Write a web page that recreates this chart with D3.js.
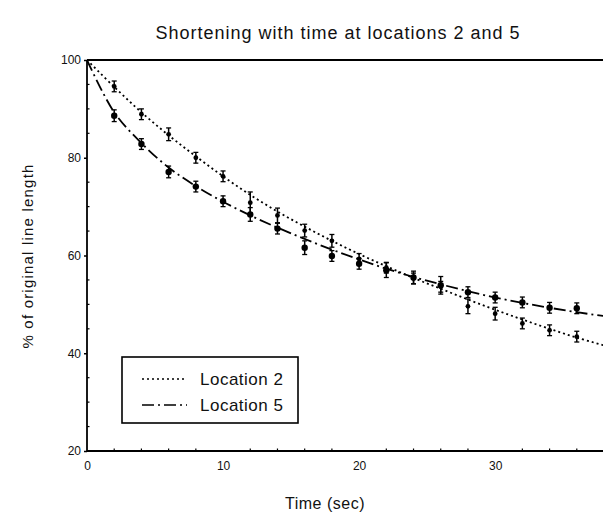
<!DOCTYPE html>
<html>
<head>
<meta charset="utf-8">
<script src="https://cdn.jsdelivr.net/npm/d3@7"></script>
<style>
  body { margin: 0; background: #fff; }
  text { font-family: "Liberation Sans", Arial, sans-serif; fill: #111; }
</style>
</head>
<body>
<script>
// measured points (mean +- error), time in seconds
var times = [2, 4, 6, 8, 10, 12, 14, 16, 18, 20, 22, 24, 26, 28, 30, 32, 34, 36];
var loc2 = [94.6, 88.9, 84.8, 80.0, 76.2, 70.8, 68.2, 65.1, 63.0, 59.3, 57.5, 55.3, 53.6, 49.6, 48.1, 46.1, 44.7, 43.4];
var loc2Err = [1.1, 1.1, 1.3, 1.1, 1.1, 2.2, 1.5, 1.3, 1.3, 1.1, 1.1, 1.1, 1.1, 1.5, 1.3, 1.1, 1.1, 1.1];
var loc5 = [88.6, 82.8, 77.1, 74.1, 71.1, 68.4, 65.5, 61.6, 59.9, 58.3, 57.0, 55.5, 53.9, 52.5, 51.4, 50.4, 49.3, 49.2];
var loc5Err = [1.2, 1.1, 1.2, 1.1, 1.1, 1.4, 1.1, 1.4, 1.1, 1.1, 1.5, 1.3, 1.8, 1.1, 1.1, 1.1, 1.1, 1.1];

// fitted curves
var fitTimes = [0, 2, 4, 6, 8, 10, 12, 14, 16, 18, 20, 22, 24, 26, 28, 30, 32, 34, 36, 38];
var loc2Fit = [100, 94.5, 89.3, 84.6, 80.3, 76.2, 72.4, 69.0, 65.9, 63.0, 60.3, 57.8, 55.4, 53.2, 51.0, 48.9, 46.9, 45.0, 43.2, 41.6];
var loc5Fit = [100, 89.3, 83.0, 78.0, 74.2, 71.0, 68.2, 65.7, 63.4, 61.2, 59.2, 57.3, 55.6, 54.1, 52.7, 51.4, 50.3, 49.3, 48.4, 47.6];

var seriesNames = ['Location 2', 'Location 5'];
var xTicks = [0, 10, 20, 30];
var yTicks = [20, 40, 60, 80, 100];

var svg = d3.select('body').append('svg')
    .attr('width', 603)
    .attr('height', 516);

var x = d3.scaleLinear().domain([0, 38]).range([87, 604]);
var y = d3.scaleLinear().domain([20, 100]).range([451, 60]);

var styles = [
    { dash: '2,3', r: 2.4 },
    { dash: '12,4,2,4', r: 3.2 }
];

// title
svg.append('text')
    .attr('x', 338)
    .attr('y', 39)
    .attr('text-anchor', 'middle')
    .style('font-size', '18px')
    .style('letter-spacing', '1px')
    .text('Shortening with time at locations 2 and 5');

// frame: top line
svg.append('line')
    .attr('x1', x(0)).attr('x2', 603)
    .attr('y1', y(100)).attr('y2', y(100))
    .attr('stroke', '#000').attr('stroke-width', 1.8);

// axes
var yAxis = d3.axisLeft(y).tickValues(yTicks).tickSize(3).tickFormat(d3.format('d'));
var gy = svg.append('g').attr('transform', 'translate(' + x(0) + ',0)').call(yAxis);
var xAxis = d3.axisBottom(x).tickValues(xTicks).tickSize(0).tickPadding(10).tickFormat(d3.format('d'));
var gx = svg.append('g').attr('transform', 'translate(0,' + y(20) + ')').call(xAxis);

[gx, gy].forEach(function (g) {
    g.select('.domain').attr('stroke', '#000').attr('stroke-width', 1.8);
    g.selectAll('.tick line').attr('stroke', '#000').attr('stroke-width', 1.5);
    g.selectAll('.tick text').style('font-size', '12px').attr('fill', '#111');
});
gy.selectAll('.tick text').attr('x', -6);
gy.select('.domain').attr('d', 'M0,' + y(100) + 'V' + y(20));
gx.select('.domain').attr('d', 'M' + x(0) + ',0H603');

// minor ticks
svg.append('g').selectAll('line')
    .data(d3.range(25, 100, 5).filter(function (d) { return d % 20 !== 0; }))
    .join('line')
    .attr('x1', x(0)).attr('x2', x(0) + 2.5)
    .attr('y1', function (d) { return y(d); }).attr('y2', function (d) { return y(d); })
    .attr('stroke', '#000').attr('stroke-width', 1.2);
svg.append('g').selectAll('line')
    .data(d3.range(2, 38, 2).filter(function (d) { return d % 10 !== 0; }))
    .join('line')
    .attr('x1', function (d) { return x(d); }).attr('x2', function (d) { return x(d); })
    .attr('y1', y(20)).attr('y2', y(20) - 2.5)
    .attr('stroke', '#000').attr('stroke-width', 1.2);

// axis labels
svg.append('text')
    .attr('x', 325)
    .attr('y', 509)
    .attr('text-anchor', 'middle')
    .style('font-size', '16px')
    .style('letter-spacing', '0.5px')
    .text('Time (sec)');

svg.append('text')
    .attr('transform', 'translate(33,256) rotate(-90)')
    .attr('text-anchor', 'middle')
    .style('font-size', '15px')
    .style('letter-spacing', '1.2px')
    .text('% of original line length');

// curves
var line = d3.line()
    .x(function (d) { return x(d[0]); })
    .y(function (d) { return y(d[1]); })
    .curve(d3.curveCatmullRom);

var plot = svg.append('g');
plot.append('clipPath').attr('id', 'clip')
    .append('rect').attr('x', x(0)).attr('y', y(100)).attr('width', 603 - x(0)).attr('height', y(20) - y(100));

var fits = [loc2Fit, loc5Fit];
fits.forEach(function (vals, i) {
    plot.append('path')
        .datum(fitTimes.map(function (t, j) { return [t, vals[j]]; }))
        .attr('clip-path', 'url(#clip)')
        .attr('d', line)
        .attr('fill', 'none')
        .attr('stroke', '#000')
        .attr('stroke-width', 1.8)
        .attr('stroke-dasharray', styles[i].dash);
});

// points with error bars
var means = [loc2, loc5];
var errs = [loc2Err, loc5Err];
means.forEach(function (vals, i) {
    var pts = times.map(function (t, j) { return { t: t, v: vals[j], e: errs[i][j] }; });
    var g = plot.append('g');
    g.selectAll('line.bar').data(pts).join('line')
        .attr('class', 'bar')
        .attr('x1', function (d) { return x(d.t); }).attr('x2', function (d) { return x(d.t); })
        .attr('y1', function (d) { return y(d.v - d.e); }).attr('y2', function (d) { return y(d.v + d.e); })
        .attr('stroke', '#000').attr('stroke-width', 1.5);
    g.selectAll('line.capT').data(pts).join('line')
        .attr('class', 'capT')
        .attr('x1', function (d) { return x(d.t) - 2.5; }).attr('x2', function (d) { return x(d.t) + 2.5; })
        .attr('y1', function (d) { return y(d.v + d.e); }).attr('y2', function (d) { return y(d.v + d.e); })
        .attr('stroke', '#000').attr('stroke-width', 1.3);
    g.selectAll('line.capB').data(pts).join('line')
        .attr('class', 'capB')
        .attr('x1', function (d) { return x(d.t) - 2.5; }).attr('x2', function (d) { return x(d.t) + 2.5; })
        .attr('y1', function (d) { return y(d.v - d.e); }).attr('y2', function (d) { return y(d.v - d.e); })
        .attr('stroke', '#000').attr('stroke-width', 1.3);
    g.selectAll('circle').data(pts).join('circle')
        .attr('cx', function (d) { return x(d.t); })
        .attr('cy', function (d) { return y(d.v); })
        .attr('r', styles[i].r)
        .attr('fill', '#000');
});

// legend
var legend = svg.append('g');
legend.append('rect')
    .attr('x', 122).attr('y', 357)
    .attr('width', 176).attr('height', 66)
    .attr('fill', '#fff')
    .attr('stroke', '#000')
    .attr('stroke-width', 1.6);
seriesNames.forEach(function (name, i) {
    var ly = 379 + i * 26;
    legend.append('line')
        .attr('x1', 142).attr('x2', 187)
        .attr('y1', ly).attr('y2', ly)
        .attr('stroke', '#000')
        .attr('stroke-width', 1.5)
        .attr('stroke-dasharray', styles[i].dash);
    legend.append('text')
        .attr('x', 200).attr('y', ly + 6)
        .style('font-size', '17px')
        .style('letter-spacing', '0.5px')
        .text(name);
});
</script>
</body>
</html>
